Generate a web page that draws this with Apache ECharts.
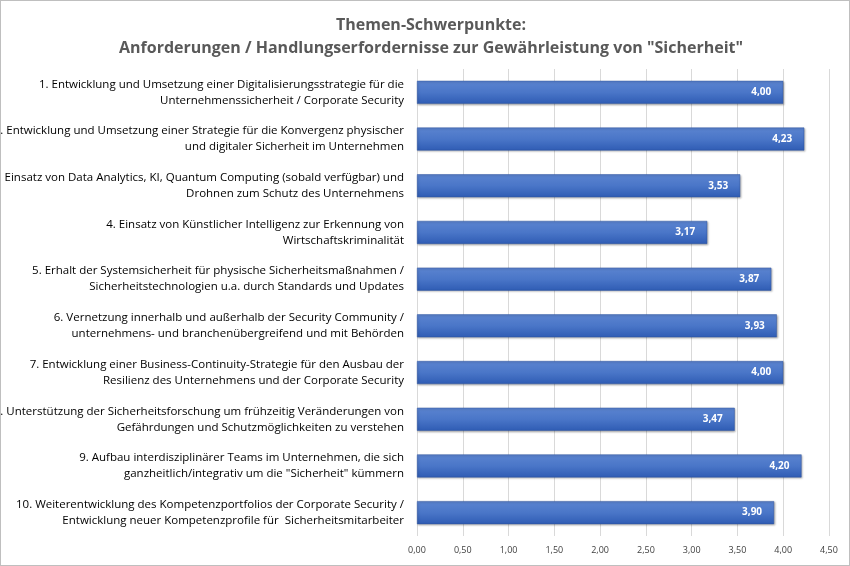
<!DOCTYPE html>
<html>
<head>
<meta charset="utf-8">
<script src="https://cdn.jsdelivr.net/npm/echarts@6/dist/echarts.min.js"></script>
<style>
html, body {margin: 0; padding: 0; background: #fff;}
#chart {width: 850px; height: 566px; box-sizing: border-box; border: 1px solid #bfbfbf;}
</style>
</head>
<body>
<div id="chart"></div>
<script>
// Themen, von oben nach unten
const topics = [
	"1. Entwicklung und Umsetzung einer Digitalisierungsstrategie für die\nUnternehmenssicherheit / Corporate Security",
	"2. Entwicklung und Umsetzung einer Strategie für die Konvergenz physischer\nund digitaler Sicherheit im Unternehmen",
	"3. Einsatz von Data Analytics, KI, Quantum Computing (sobald verfügbar) und\nDrohnen zum Schutz des Unternehmens",
	"4. Einsatz von Künstlicher Intelligenz zur Erkennung von\nWirtschaftskriminalität",
	"5. Erhalt der Systemsicherheit für physische Sicherheitsmaßnahmen /\nSicherheitstechnologien u.a. durch Standards und Updates",
	"6. Vernetzung innerhalb und außerhalb der Security Community /\nunternehmens- und branchenübergreifend und mit Behörden",
	"7. Entwicklung einer Business-Continuity-Strategie für den Ausbau der\nResilienz des Unternehmens und der Corporate Security",
	"8. Unterstützung der Sicherheitsforschung um frühzeitig Veränderungen von\nGefährdungen und Schutzmöglichkeiten zu verstehen",
	"9. Aufbau interdisziplinärer Teams im Unternehmen, die sich\nganzheitlich/integrativ um die \"Sicherheit\" kümmern",
	"10. Weiterentwicklung des Kompetenzportfolios der Corporate Security /\nEntwicklung neuer Kompetenzprofile für  Sicherheitsmitarbeiter"
];
const scores = [4.00, 4.23, 3.53, 3.17, 3.87, 3.93, 4.00, 3.47, 4.20, 3.90];

const chart = echarts.init(document.getElementById("chart"));

chart.setOption({
	animation: false,
	title: {
		text: "Themen-Schwerpunkte:\nAnforderungen / Handlungserfordernisse zur Gewährleistung von \"Sicherheit\"",
		left: 425,
		top: 8,
		textAlign: "center",
		textStyle: {fontFamily: "Open Sans", fontSize: 16, fontWeight: "bold", color: "#595959", lineHeight: 23}
	},
	grid: {left: 416, right: 20, top: 68, bottom: 29, containLabel: false, outerBoundsMode: "none"},
	xAxis: {
		type: "value",
		min: 0,
		max: 4.5,
		interval: 0.5,
		axisLine: {show: false},
		axisTick: {show: false},
		splitLine: {lineStyle: {color: "#d9d9d9"}},
		axisLabel: {
			fontFamily: "Open Sans", fontSize: 9, color: "#404040", margin: 10,
			formatter: (v) => v.toFixed(2).replace(".", ",")
		}
	},
	yAxis: {
		type: "category",
		inverse: true,
		data: topics,
		axisLine: {show: false},
		axisTick: {show: false},
		axisLabel: {fontFamily: "Open Sans", fontSize: 11.5, color: "#000", lineHeight: 16, margin: 13, align: "right"}
	},
	series: [{
		type: "bar",
		data: scores,
		barWidth: 23,
		itemStyle: {
			color: new echarts.graphic.LinearGradient(0, 0, 0, 1, [
				{offset: 0, color: "#5b84d0"},
				{offset: 0.5, color: "#4a76c8"},
				{offset: 1, color: "#2f5cb4"}
			]),
			borderColor: "#2f55a0",
			borderWidth: 0.5,
			shadowColor: "rgba(0,0,0,0.3)",
			shadowBlur: 2,
			shadowOffsetX: 1,
			shadowOffsetY: 1
		},
		label: {
			show: true,
			position: "insideRight",
			distance: 12,
			color: "#fff",
			fontFamily: "Open Sans",
			fontSize: 10,
			fontWeight: "bold",
			formatter: (p) => p.value.toFixed(2).replace(".", ",")
		}
	}]
});
</script>
</body>
</html>
